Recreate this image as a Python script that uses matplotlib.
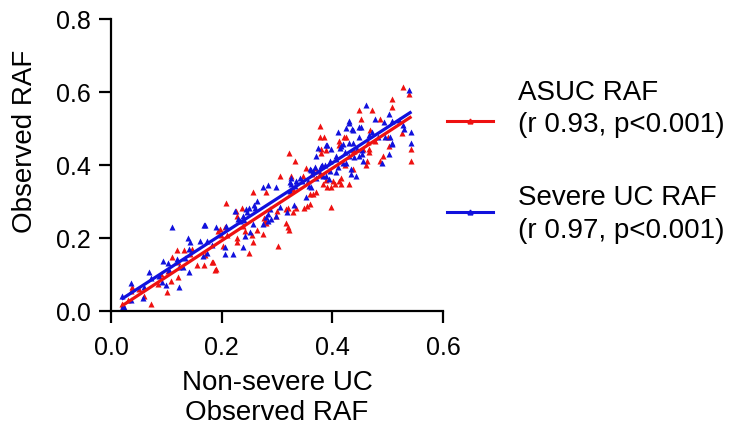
import numpy as np
import matplotlib
matplotlib.use("Agg")
import matplotlib.pyplot as plt
from matplotlib.lines import Line2D

plt.rcParams["font.family"] = ["Liberation Sans", "DejaVu Sans"]

# Non-severe UC observed RAF (x) vs ASUC observed RAF (y)
asuc_x = [0.119, 0.132, 0.111, 0.121, 0.103, 0.108, 0.121, 0.102, 0.072, 0.036,
          0.038, 0.022, 0.155, 0.168, 0.182, 0.189, 0.143, 0.194, 0.146, 0.050,
          0.060, 0.085, 0.090, 0.030, 0.020,
          0.378, 0.377, 0.385, 0.380, 0.380, 0.322, 0.333, 0.305, 0.352, 0.368,
          0.257, 0.280, 0.208, 0.236, 0.226, 0.228, 0.276, 0.281, 0.317, 0.322,
          0.264, 0.275, 0.254, 0.257, 0.228, 0.238, 0.242, 0.197, 0.206, 0.198,
          0.202, 0.210, 0.228, 0.250, 0.302, 0.170, 0.184, 0.188, 0.359, 0.365,
          0.371, 0.354, 0.348, 0.335, 0.319, 0.300, 0.298, 0.278, 0.329, 0.317,
          0.329, 0.320,
          0.528, 0.539, 0.507, 0.508, 0.449, 0.471, 0.451, 0.487, 0.421, 0.425,
          0.468, 0.526, 0.500, 0.412, 0.412, 0.477, 0.502, 0.543, 0.466, 0.466,
          0.437, 0.455, 0.492, 0.487, 0.543, 0.463, 0.460, 0.437, 0.422, 0.416,
          0.412, 0.388, 0.404, 0.416, 0.431, 0.391, 0.398, 0.359, 0.397,
          0.388, 0.377, 0.376, 0.347, 0.364, 0.401, 0.383, 0.326, 0.440, 0.464]
asuc_y = [0.167, 0.167, 0.147, 0.135, 0.110, 0.083, 0.094, 0.051, 0.019, 0.055,
          0.067, 0.016, 0.126, 0.126, 0.135, 0.115, 0.156, 0.219, 0.169, 0.060,
          0.040, 0.075, 0.100, 0.030, 0.020,
          0.506, 0.475, 0.475, 0.443, 0.432, 0.432, 0.411, 0.368, 0.390, 0.390,
          0.326, 0.326, 0.295, 0.283, 0.274, 0.260, 0.253, 0.242, 0.242, 0.221,
          0.221, 0.210, 0.208, 0.189, 0.201, 0.233, 0.219, 0.224, 0.229, 0.208,
          0.178, 0.208, 0.188, 0.158, 0.178, 0.153, 0.135, 0.113, 0.320, 0.320,
          0.326, 0.286, 0.283, 0.283, 0.283, 0.274, 0.260, 0.247, 0.333, 0.279,
          0.270, 0.230,
          0.614, 0.593, 0.581, 0.559, 0.549, 0.549, 0.526, 0.526, 0.475, 0.475,
          0.495, 0.486, 0.475, 0.465, 0.454, 0.465, 0.452, 0.443, 0.443, 0.434,
          0.441, 0.443, 0.423, 0.411, 0.411, 0.411, 0.399, 0.388, 0.399, 0.365,
          0.356, 0.359, 0.347, 0.347, 0.347, 0.338, 0.338, 0.292, 0.285,
          0.440, 0.372, 0.383, 0.370, 0.376, 0.356, 0.347, 0.370, 0.438, 0.461]

# Non-severe UC observed RAF (x) vs severe UC observed RAF (y)
severe_x = [0.111, 0.168, 0.189, 0.140, 0.143, 0.161, 0.173, 0.141, 0.094, 0.103,
            0.069, 0.072, 0.087, 0.105, 0.093, 0.099, 0.123, 0.037, 0.060, 0.057,
            0.037, 0.019, 0.022, 0.019, 0.123, 0.130, 0.141, 0.134, 0.173, 0.182,
            0.119, 0.024,
            0.389, 0.371, 0.382, 0.386, 0.362, 0.346, 0.326, 0.324, 0.358, 0.352,
            0.284, 0.275, 0.298, 0.263, 0.260, 0.250, 0.245, 0.287, 0.290, 0.318,
            0.330, 0.224, 0.170, 0.208, 0.251, 0.242, 0.206, 0.221, 0.206, 0.239,
            0.167, 0.233, 0.275, 0.284,
            0.323, 0.258, 0.244, 0.305, 0.299, 0.239, 0.240, 0.230, 0.257, 0.281,
            0.284,
            0.539, 0.460, 0.502, 0.478, 0.507, 0.493, 0.520, 0.431, 0.430, 0.449,
            0.437, 0.528, 0.529, 0.543, 0.410, 0.471, 0.466, 0.449, 0.482, 0.496,
            0.505, 0.391, 0.398, 0.419, 0.415, 0.407, 0.406, 0.430, 0.437, 0.431,
            0.440, 0.422, 0.449, 0.455, 0.508, 0.543, 0.502, 0.489, 0.419, 0.424,
            0.410, 0.406, 0.434, 0.359, 0.365, 0.377, 0.383, 0.371, 0.388, 0.362,
            0.425, 0.374, 0.413, 0.395, 0.380, 0.368, 0.434, 0.395, 0.335, 0.341,
            0.356, 0.394, 0.326, 0.332, 0.443, 0.451, 0.436, 0.507, 0.445, 0.453,
            0.453]
severe_y = [0.230, 0.236, 0.230, 0.199, 0.188, 0.192, 0.192, 0.169, 0.137, 0.131,
            0.107, 0.089, 0.095, 0.113, 0.078, 0.072, 0.065, 0.077, 0.065, 0.036,
            0.030, 0.042, 0.010, 0.007, 0.120, 0.120, 0.107, 0.144, 0.158, 0.181,
            0.142, 0.012,
            0.454, 0.423, 0.399, 0.399, 0.386, 0.356, 0.363, 0.352, 0.341, 0.313,
            0.344, 0.338, 0.338, 0.301, 0.283, 0.283, 0.271, 0.279, 0.251, 0.271,
            0.290, 0.274, 0.235, 0.233, 0.215, 0.206, 0.174, 0.156, 0.156, 0.174,
            0.151, 0.247, 0.238, 0.265,
            0.329, 0.290, 0.279, 0.285, 0.260, 0.260, 0.249, 0.251, 0.238, 0.256,
            0.245,
            0.605, 0.563, 0.538, 0.526, 0.520, 0.516, 0.523, 0.520, 0.514, 0.502,
            0.495, 0.508, 0.499, 0.490, 0.490, 0.490, 0.481, 0.477, 0.477, 0.477,
            0.475, 0.454, 0.443, 0.456, 0.450, 0.424, 0.417, 0.459, 0.459, 0.424,
            0.420, 0.434, 0.423, 0.411, 0.459, 0.459, 0.429, 0.406, 0.406, 0.404,
            0.395, 0.381, 0.374, 0.388, 0.383, 0.374, 0.370, 0.363, 0.368, 0.338,
            0.500, 0.447, 0.447, 0.411, 0.397, 0.394, 0.388, 0.383, 0.356, 0.365,
            0.356, 0.361, 0.347, 0.342, 0.370, 0.504, 0.497, 0.456, 0.443, 0.440,
            0.429]

series_labels = ["ASUC RAF", "Severe UC RAF"]
series_stats = ["(r 0.93, p<0.001)", "(r 0.97, p<0.001)"]
x_ticks = [0.0, 0.2, 0.4, 0.6]
y_ticks = [0.0, 0.2, 0.4, 0.6, 0.8]

RED = "#EE1111"
BLUE = "#1111DD"

W, H = 747, 427
fig = plt.figure(figsize=(W / 100, H / 100), dpi=100)
ax = fig.add_axes([111 / W, 115 / H, 332 / W, 292.5 / H])

series = [(asuc_x, asuc_y, RED), (severe_x, severe_y, BLUE)]

for xs, ys, col in series:
    ax.scatter(xs, ys, marker="^", s=19, color=col, linewidths=0, zorder=2)

# least-squares regression line over each series' x range
for xs, ys, col in series:
    xs = np.asarray(xs)
    ys = np.asarray(ys)
    slope, intercept = np.polyfit(xs, ys, 1)
    xl = np.array([xs.min(), xs.max()])
    ax.plot(xl, slope * xl + intercept, color=col, lw=2.3, zorder=3,
            solid_capstyle="butt")

ax.set_xlim(0, 0.6)
ax.set_ylim(0, 0.8)
ax.set_xticks(x_ticks)
ax.set_yticks(y_ticks)
ax.set_xticklabels([f"{t:.1f}" for t in x_ticks])
ax.set_yticklabels([f"{t:.1f}" for t in y_ticks])

for side in ("top", "right"):
    ax.spines[side].set_visible(False)
for side in ("left", "bottom"):
    ax.spines[side].set_linewidth(1.6)
    ax.spines[side].set_color("black")

ax.tick_params(axis="both", direction="out", length=8.5, width=1.6,
               labelsize=18, colors="black")
ax.tick_params(axis="x", pad=9)
ax.tick_params(axis="y", pad=6)

ax.set_xlabel("Non-severe UC\nObserved RAF", fontsize=20)
ax.set_ylabel("Observed RAF", fontsize=20)
ax.yaxis.set_label_coords(-0.22, 0.585)
ax.xaxis.set_label_coords(0.5, -0.2)

# legend entries drawn in figure pixel space
def fx(px):
    return px / W

def fy(py):
    return 1 - py / H

legend_rows = [
    (RED, 121.7, 99.5, 132.0),
    (BLUE, 212.7, 205.0, 238.5),
]
for (col, hy, b1, b2), lab, stat in zip(legend_rows, series_labels, series_stats):
    fig.add_artist(Line2D([fx(447), fx(493)], [fy(hy), fy(hy)],
                          transform=fig.transFigure, color=col, lw=2.2))
    fig.add_artist(Line2D([fx(470)], [fy(hy)], transform=fig.transFigure,
                          color=col, marker="^", markersize=3.5, lw=0))
    fig.text(fx(518), fy(b1), lab, fontsize=20, va="baseline", ha="left")
    fig.text(fx(518), fy(b2), stat, fontsize=20, va="baseline", ha="left")

fig.savefig("out.png", dpi=100)
